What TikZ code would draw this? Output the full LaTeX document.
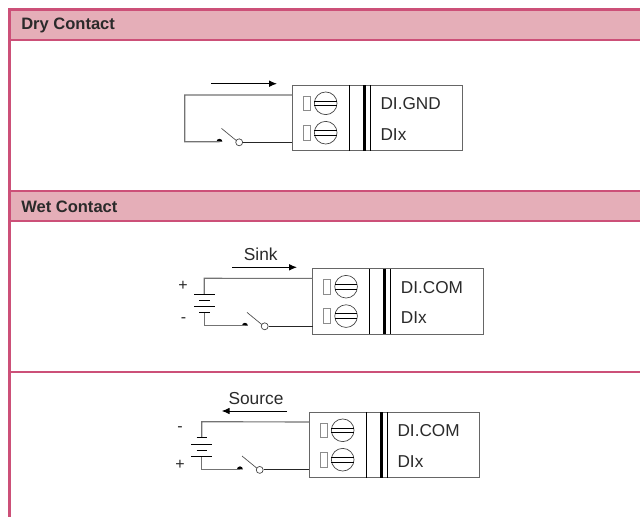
\documentclass[tikz,border=0pt]{standalone}
\usepackage{fontspec}
\setmainfont{Liberation Sans}
\usetikzlibrary{arrows.meta}
\definecolor{bar}{HTML}{CC5078}
\definecolor{band}{HTML}{E5AEB8}
\definecolor{ink}{HTML}{2A2A2A}
\tikzset{
  x=0.75pt,y=-0.75pt,
  heading/.style={anchor=west,inner sep=0pt,font=\fontsize{12.4}{14}\selectfont\bfseries,text=ink},
  lbl/.style={anchor=west,inner sep=0pt,font=\fontsize{12.9}{15}\selectfont,text=ink},
  mid/.style={inner sep=0pt,font=\fontsize{13}{15}\selectfont,text=ink},
  sgn/.style={inner sep=0pt,font=\fontsize{12}{14}\selectfont,text=ink},
  boxline/.style={draw=black!60,line width=0.6pt},
  divider/.style={draw=black,line width=0.75pt},
  wiregray/.style={draw=black!55,line width=0.85pt},
  wiredark/.style={draw=black!85,line width=0.85pt},
  flow/.style={draw=black,line width=0.75pt,-{Latex[length=6pt,width=5pt]}},
  plate/.style={draw=black,line width=0.75pt},
}
% #1 prefix, #2 x, #3 y of box top-left, #4 top label
\newcommand{\terminalblock}[4]{%
  \begin{scope}[shift={(#2,#3)}]
    \node[boxline,outer sep=0pt,minimum width=127.8pt,minimum height=49.05pt,inner sep=0pt,anchor=north west] (#1box) at (0,0) {};
    \draw[divider,line width=0.6pt] (57,0) -- (57,65.4);
    \draw[divider,line width=2.2pt] (72,0) -- (72,65.4);
    \draw[divider,line width=0.6pt] (78,0) -- (78,65.4);
    \foreach \yy in {18,47.4}{
      \draw[draw=black!45,line width=0.5pt] (11,\yy-7.3) rectangle (17.7,\yy+7.3);
      \draw[draw=black!75,line width=0.5pt] (33.4,\yy) circle[radius=8.5pt];
      \draw[draw=black,line width=0.5pt] (22.1,\yy-2.3) -- (44.7,\yy-2.3) (22.1,\yy+2.3) -- (44.7,\yy+2.3);
    }
    \node[lbl] (#1top) at (88,18.5) {#4};
    \node[lbl] (#1bot) at (88,49) {DIx};
    \coordinate (#1in1) at (0,9.7);
    \coordinate (#1in2) at (0,57);
  \end{scope}}
\newcommand{\switchat}[3]{% #1 prefix, #2 x of dot, #3 wire y
  \fill[black] (#2-3,#3) arc[start angle=180,end angle=0,radius=2.2pt] -- cycle;
  \coordinate (#1dot) at (#2,#3);
  \draw[draw=black!70,line width=0.5pt] (#2+2,#3-13.3) -- (#2+17,#3-1);
  \node[circle,draw=black!75,line width=0.5pt,fill=white,minimum size=5.2pt,inner sep=0pt] (#1sw) at (#2+19.7,#3+0.6) {};
}
\begin{document}
\begin{tikzpicture}
\useasboundingbox (0,0) rectangle (640,517);
\fill[white] (0,0) rectangle (640,517);
% bands
\fill[band] (10,10) rectangle (640,39.5);
\fill[band] (10,192) rectangle (640,220.5);
\fill[bar] (8,8.3) rectangle (640,10.7);
\fill[bar] (8,38.8) rectangle (640,41);
\fill[bar] (8,190) rectangle (640,192.2);
\fill[bar] (8,220) rectangle (640,222.2);
\fill[bar] (8,371) rectangle (640,373.2);
\fill[bar] (8,8.3) rectangle (11,517);
\node[heading] (h1) at (21,25) {Dry Contact};
\node[heading] (h2) at (21,207) {Wet Contact};

% Dry contact
\terminalblock{a}{292.3}{85.3}{DI.GND}
\coordinate (aTL) at (184.7,95);
\coordinate (aBL) at (184.7,141.7);
\switchat{a}{219.5}{141.7}
\draw[wiregray] (ain1) -- (aTL) -- (aBL) -- (adot);
\draw[wiredark] (asw) -- (asw -| ain2);
\coordinate (af1) at (211,83.7);
\coordinate (af2) at (277,83.7);
\draw[flow] (af1) -- (af2);

% Wet contact, sink
\terminalblock{b}{312.7}{268.7}{DI.COM}
\coordinate (bTL) at (204.3,278.3);
\coordinate (bBL) at (204.3,325.7);
\coordinate (bB1) at (204.3,294.3);
\coordinate (bB2) at (204.3,312.3);
\switchat{b}{245}{325.7}
\draw[wiregray] (bin1) -- (bTL) -- (bB1);
\draw[wiregray] (bB2) -- (bBL) -- (bdot);
\draw[wiredark] (bsw) -- (bsw -| bin2);
\draw[plate] (194,294.3) -- (215,294.3) (194,306.3) -- (215,306.3);
\draw[plate] (199.3,300.5) -- (210,300.5) (199.3,312.3) -- (210,312.3);
\draw[flow] (232,267.3) -- (297,267.3);
\node[mid] (bn) at (260.7,254) {Sink};
\node[sgn] (bp) at (183,286) {+};
\node[sgn] (bm) at (183.5,320) {-};

% Wet contact, source
\terminalblock{c}{309.3}{412.3}{DI.COM}
\coordinate (cTL) at (201.7,421.7);
\coordinate (cBL) at (201.7,469.3);
\coordinate (cB1) at (201.7,437.7);
\coordinate (cB2) at (201.7,456);
\switchat{c}{240}{469.3}
\draw[wiregray] (cin1) -- (cTL) -- (cB1);
\draw[wiregray] (cB2) -- (cBL) -- (cdot);
\draw[wiredark] (csw) -- (csw -| cin2);
\draw[plate] (191,444) -- (212,444) (191,456) -- (212,456);
\draw[plate] (196.7,437.7) -- (206.7,437.7) (196.7,450) -- (206.7,450);
\draw[flow] (287,411) -- (221.7,411);
\node[mid] (cn) at (256,399) {Source};
\node[sgn] (cm) at (180,429) {-};
\node[sgn] (cp) at (180,465) {+};
\end{tikzpicture}
\end{document}
